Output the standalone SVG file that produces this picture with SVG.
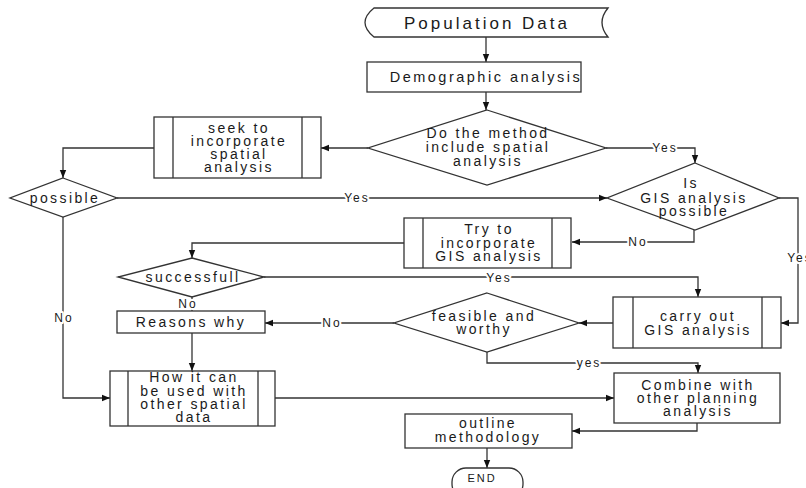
<svg xmlns="http://www.w3.org/2000/svg" width="806" height="488" viewBox="0 0 806 488">
<style>
.s{fill:#fff;stroke:#333;stroke-width:1.3}
.c{fill:none;stroke:#333;stroke-width:1.3}
.t{font-family:"Liberation Sans",Arial,sans-serif;font-size:14px;letter-spacing:2.4px;fill:#1a1a1a;text-anchor:middle}
.l{font-family:"Liberation Sans",Arial,sans-serif;font-size:12px;letter-spacing:2px;fill:#1a1a1a;text-anchor:middle;stroke:#fff;stroke-width:4px;paint-order:stroke;stroke-linejoin:round}
</style>
<defs>
<marker id="a" viewBox="0 0 10 10" refX="10" refY="5" markerWidth="8" markerHeight="8" markerUnits="userSpaceOnUse" orient="auto">
<path d="M0,1 L10,5 L0,9 Z" fill="#111"/>
</marker>
</defs>
<rect width="806" height="488" fill="#fff"/>
<g id="connectors">
<path class="c" d="M486,37 V62" marker-end="url(#a)"/>
<path class="c" d="M486,92 V110" marker-end="url(#a)"/>
<path class="c" d="M368,148 H321" marker-end="url(#a)"/>
<path class="c" d="M154,148 H63 V178" marker-end="url(#a)"/>
<path class="c" d="M117,198 H607" marker-end="url(#a)"/>
<path class="c" d="M606,148 H695 V163" marker-end="url(#a)"/>
<path class="c" d="M694,230 V242 H572" marker-end="url(#a)"/>
<path class="c" d="M404,243 H192 V258" marker-end="url(#a)"/>
<path class="c" d="M264,277 H698 V297" marker-end="url(#a)"/>
<path class="c" d="M192,297 V311"/>
<path class="c" d="M394,323 H265" marker-end="url(#a)"/>
<path class="c" d="M192,333 V371" marker-end="url(#a)"/>
<path class="c" d="M63,217 V398 H110" marker-end="url(#a)"/>
<path class="c" d="M779,198 H798 V323 H781" marker-end="url(#a)"/>
<path class="c" d="M613,323 H579" marker-end="url(#a)"/>
<path class="c" d="M487,352 V363 H698 V373" marker-end="url(#a)"/>
<path class="c" d="M275,398 H614" marker-end="url(#a)"/>
<path class="c" d="M697,423 V431 H572" marker-end="url(#a)"/>
<path class="c" d="M487,448 V468" marker-end="url(#a)"/>
<text class="l" x="357" y="202">Yes</text>
<text class="l" x="665" y="152">Yes</text>
<text class="l" x="638" y="246">No</text>
<text class="l" x="800" y="262">Yes</text>
<text class="l" x="499" y="282">Yes</text>
<text class="l" x="188" y="308">No</text>
<text class="l" x="332" y="327">No</text>
<text class="l" x="64" y="322">No</text>
<text class="l" x="589" y="367">yes</text>
</g>
<g id="population">
<path class="s" d="M374,8 H608 Q596,22.5 608,37 H374 Q356,22.5 374,8 Z"/>
<text class="t" x="487" y="29" style="font-size:17px;letter-spacing:3px">Population Data</text>
</g>
<g id="demographic">
<rect class="s" x="367" y="62" width="214" height="30"/>
<text class="t" x="486" y="82" style="font-size:14.5px;letter-spacing:2.5px">Demographic analysis</text>
</g>
<g id="method">
<path class="s" d="M487,110 L606,148 L487,185 L368,148 Z"/>
<text class="t" x="488" y="138">Do the method</text>
<text class="t" x="488" y="152">include spatial</text>
<text class="t" x="488" y="166">analysis</text>
</g>
<g id="seek">
<rect class="s" x="154" y="117" width="167" height="61"/>
<path class="c" d="M173,117 V178 M302,117 V178"/>
<text class="t" x="239" y="133">seek to</text>
<text class="t" x="239" y="146">incorporate</text>
<text class="t" x="239" y="159">spatial</text>
<text class="t" x="239" y="172">analysis</text>
</g>
<g id="possible">
<path class="s" d="M63,178 L117,198 L63,217 L10,198 Z"/>
<text class="t" x="65" y="203">possible</text>
</g>
<g id="gis">
<path class="s" d="M695,163 L779,198 L695,230 L607,198 Z"/>
<text class="t" x="691" y="188">Is</text>
<text class="t" x="694" y="203">GIS analysis</text>
<text class="t" x="694" y="216">possible</text>
</g>
<g id="try">
<rect class="s" x="404" y="218" width="167" height="50"/>
<path class="c" d="M423,218 V268 M552,218 V268"/>
<text class="t" x="489" y="234">Try to</text>
<text class="t" x="489" y="248">incorporate</text>
<text class="t" x="489" y="261">GIS analysis</text>
</g>
<g id="successfull">
<path class="s" d="M192,258 L264,277 L192,297 L118,277 Z"/>
<text class="t" x="193" y="282">successfull</text>
</g>
<g id="reasons">
<rect class="s" x="117" y="311" width="148" height="22"/>
<text class="t" x="191" y="327">Reasons why</text>
</g>
<g id="feasible">
<path class="s" d="M487,293 L579,323 L487,352 L394,323 Z"/>
<text class="t" x="484" y="321">feasible and</text>
<text class="t" x="484" y="334">worthy</text>
</g>
<g id="carry">
<rect class="s" x="613" y="297" width="168" height="51"/>
<path class="c" d="M633,297 V348 M762,297 V348"/>
<text class="t" x="698" y="321">carry out</text>
<text class="t" x="698" y="335">GIS analysis</text>
</g>
<g id="how">
<rect class="s" x="110" y="371" width="165" height="55"/>
<path class="c" d="M128,371 V426 M258,371 V426"/>
<text class="t" x="194" y="382">How it can</text>
<text class="t" x="194" y="396">be used with</text>
<text class="t" x="194" y="409">other spatial</text>
<text class="t" x="194" y="422">data</text>
</g>
<g id="combine">
<rect class="s" x="614" y="373" width="166" height="50"/>
<text class="t" x="698" y="390">Combine with</text>
<text class="t" x="698" y="403">other planning</text>
<text class="t" x="698" y="416">analysis</text>
</g>
<g id="outline">
<rect class="s" x="405" y="414" width="167" height="34"/>
<text class="t" x="488" y="428">outline</text>
<text class="t" x="488" y="442">methodology</text>
</g>
<g id="end">
<rect class="s" x="452" y="468" width="71" height="30" rx="14"/>
<text class="t" x="482" y="482" style="font-size:11px;letter-spacing:2px">END</text>
</g>
</svg>
